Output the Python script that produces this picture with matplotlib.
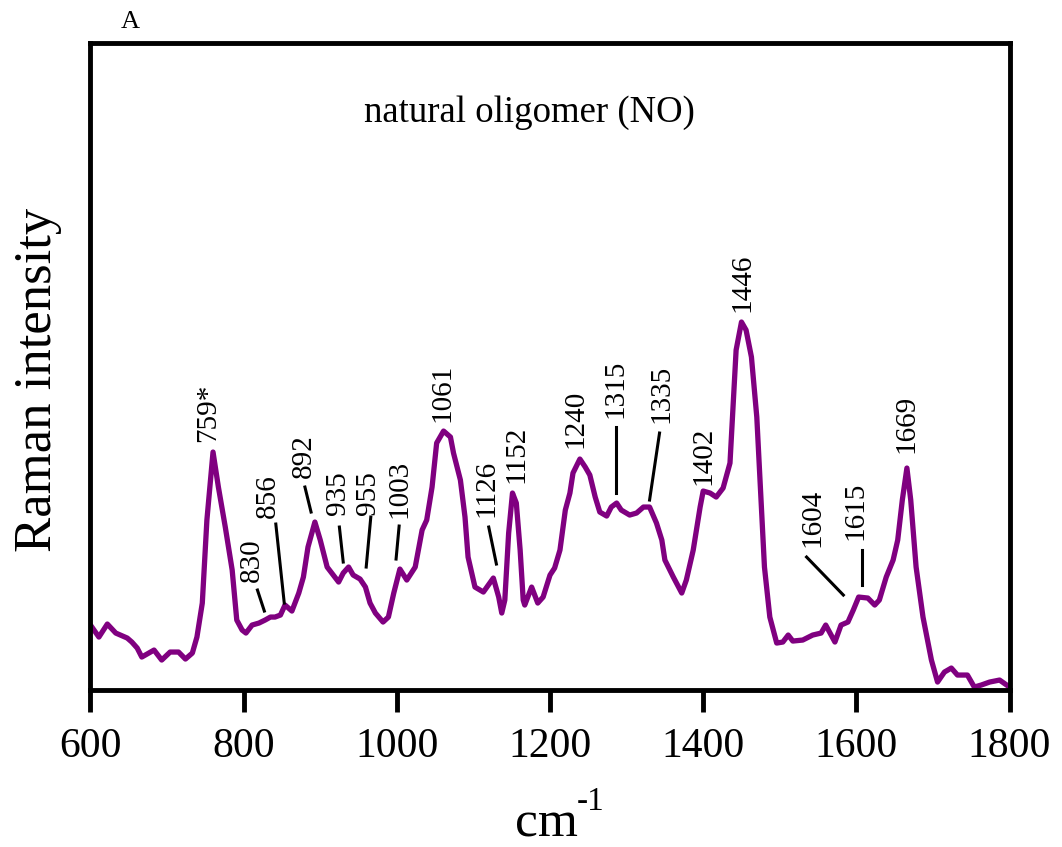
import numpy as np
import matplotlib
matplotlib.use('Agg')
import matplotlib.pyplot as plt

plt.rcParams['font.family'] = ['Liberation Serif', 'DejaVu Serif']

# Raman spectrum (wavenumber, intensity in arbitrary units)
wavenumber = [600, 611, 622, 633, 648, 654, 661, 667, 683, 693, 704, 715, 724, 733,
              739, 746, 752, 760, 767, 776, 785, 791, 798, 803, 811, 820, 828, 835,
              841, 848, 854, 863, 872, 878, 884, 893, 900, 909, 917, 924, 930, 937,
              943, 952, 959, 965, 972, 982, 989, 996, 1004, 1013, 1024, 1033, 1039,
              1046, 1052, 1061, 1070, 1074, 1083, 1089, 1093, 1102, 1113, 1126, 1133,
              1137, 1141, 1146, 1151, 1156, 1161, 1165, 1167, 1176, 1184, 1191, 1200,
              1206, 1213, 1220, 1226, 1230, 1239, 1246, 1252, 1259, 1265, 1274, 1280,
              1287, 1293, 1304, 1313, 1322, 1330, 1339, 1346, 1350, 1361, 1372, 1378,
              1387, 1396, 1400, 1409, 1417, 1426, 1435, 1439, 1443, 1450, 1456, 1463,
              1470, 1476, 1480, 1487, 1496, 1504, 1511, 1517, 1530, 1543, 1554, 1560,
              1572, 1580, 1589, 1596, 1603, 1615, 1624, 1630, 1639, 1648, 1654, 1660,
              1666, 1671, 1678, 1687, 1698, 1706, 1715, 1724, 1732, 1745, 1754, 1763,
              1774, 1787, 1800]
intensity = [65, 53, 66, 57, 52, 48, 42, 33, 40, 30, 38, 38, 31, 37,
             53, 87, 170, 238, 203, 163, 120, 70, 60, 57, 65, 67, 70, 73,
             73, 75, 85, 79, 97, 113, 143, 168, 150, 123, 115, 108, 117, 123,
             115, 111, 103, 87, 77, 68, 73, 97, 121, 110, 123, 160, 170,
             203, 247, 259, 253, 237, 210, 173, 133, 103, 98, 112, 93,
             77, 90, 157, 197, 187, 140, 90, 85, 103, 87, 93, 115,
             122, 140, 180, 197, 217, 231, 223, 215, 193, 178, 174, 183,
             187, 180, 175, 177, 183, 183, 167, 150, 130, 113, 97, 110,
             140, 183, 199, 197, 193, 202, 227, 283, 340, 368, 360, 333,
             273, 183, 123, 73, 47, 48, 55, 49, 50, 55, 57, 65,
             48, 65, 68, 80, 93, 92, 85, 90, 113, 130, 150, 190,
             222, 190, 123, 73, 30, 8, 18, 22, 15, 15, 3, 5,
             8, 10, 3]

# peak labels: text, label anchor (x, y), leader line ((x0, y0), (x1, y1)) or None
peak_labels = ['759*', '830', '856', '892', '935', '955', '1003', '1061', '1126',
               '1152', '1240', '1315', '1335', '1402', '1446', '1604', '1615', '1669']
label_x = [753, 811, 832, 879, 923, 962, 1004, 1059, 1117, 1156, 1233, 1285, 1346,
           1400, 1451, 1542, 1599, 1666]
label_y = [248, 108, 172, 212, 175, 175, 172, 268, 173, 207, 242, 272, 267, 205,
           378, 143, 150, 237]
leaders = [None,
           ((818, 100), (827, 79)),
           ((842, 166), (853, 87)),
           ((880, 203), (888, 178)),
           ((925, 163), (930, 128)),
           ((966, 173), (960, 123)),
           ((1003, 164), (999, 131)),
           None,
           ((1120, 163), (1130, 126)),
           None, None,
           ((1286, 263), (1286, 197)),
           ((1343, 257), (1330, 190)),
           None, None,
           ((1535, 133), (1583, 95)),
           ((1608, 140), (1608, 105)),
           None]

fig = plt.figure(figsize=(10.62, 8.47), dpi=100)
ax = fig.add_axes([0.0852, 0.1853, 0.8654, 0.7645])

ax.plot(wavenumber, intensity, color='#800080', lw=3.8,
        solid_joinstyle='round', solid_capstyle='round')

for txt, x, y, ld in zip(peak_labels, label_x, label_y, leaders):
    ax.text(x, y, txt, rotation=90, ha='center', va='bottom', fontsize=21)
    if ld is not None:
        (x0, y0), (x1, y1) = ld
        ax.plot([x0, x1], [y0, y1], color='black', lw=2.2)

ax.text(0.4777, 0.891, 'natural oligomer (NO)', transform=ax.transAxes,
        ha='center', va='center', fontsize=26.5)

ax.set_xlim(600, 1800)
ax.set_ylim(0, 647.5)
ax.set_xticks(np.arange(600, 1801, 200))
ax.set_yticks([])
ax.tick_params(axis='x', direction='out', length=16, width=3.5, labelsize=30, pad=11)
for sp in ax.spines.values():
    sp.set_linewidth(3.5)

fig.text(0.036, 0.551, 'Raman intensity', rotation=90, ha='center', va='center',
         fontsize=38)
fig.text(0.515, 0.012, 'cm', ha='center', va='baseline', fontsize=37)
fig.text(0.543, 0.044, '-1', ha='left', va='baseline', fontsize=24)
fig.text(0.1224, 0.974, 'A', ha='center', va='center', fontsize=19)

plt.savefig('out.png', dpi=100)
plt.close()
